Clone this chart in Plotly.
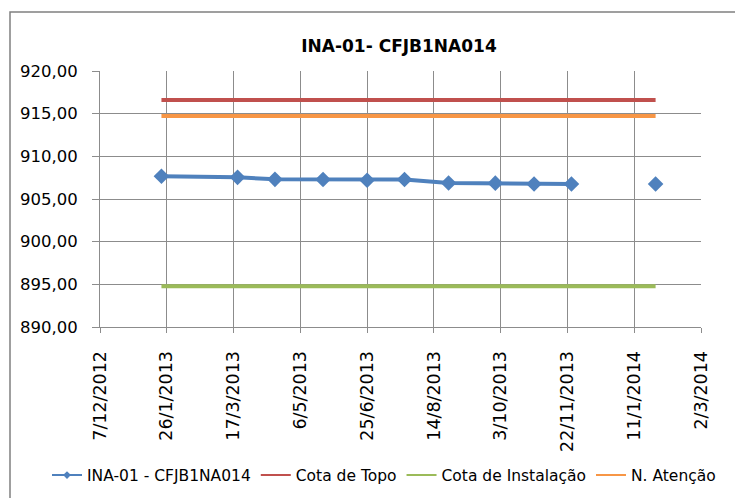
import plotly.graph_objects as go

# ---- data ----
dates = ["2013-01-22", "2013-03-20", "2013-04-17", "2013-05-23", "2013-06-25",
         "2013-07-23", "2013-08-25", "2013-09-29", "2013-10-28", "2013-11-25",
         "2013-12-26", "2014-01-27"]
ina_values = [907.66, 907.54, 907.30, 907.28, 907.19, 907.28, 906.88, 906.86,
              906.76, 906.76, None, 906.76]

line_dates = ["2013-01-22", "2014-01-27"]
cota_topo = [916.60, 916.60]
cota_instalacao = [894.78, 894.78]
n_atencao = [914.72, 914.72]

x_tick_vals = ["2012-12-07", "2013-01-26", "2013-03-17", "2013-05-06", "2013-06-25",
               "2013-08-14", "2013-10-03", "2013-11-22", "2014-01-11", "2014-03-02"]
x_tick_text = ["7/12/2012", "26/1/2013", "17/3/2013", "6/5/2013", "25/6/2013",
               "14/8/2013", "3/10/2013", "22/11/2013", "11/1/2014", "2/3/2014"]
y_tick_vals = [890, 895, 900, 905, 910, 915, 920]
y_tick_text = ["890,00", "895,00", "900,00", "905,00", "910,00", "915,00", "920,00"]

title_text = "INA-01- CFJB1NA014"
names = ["INA-01 - CFJB1NA014", "Cota de Topo", "Cota de Instalação", "N. Atenção"]

BLUE = "#4F81BD"
RED = "#C0504D"
GREEN = "#9BBB59"
ORANGE = "#F79646"
GRID = "#8C8C8C"
FONT = "DejaVu Sans"

W, H = 743, 498
OFF = 8  # page body margin offset
L, T = 100 - OFF, 71 - OFF
pw, ph = 601, 256
R = W - L - pw
B = H - T - ph

fig = go.Figure()
fig.add_trace(go.Scatter(x=line_dates, y=cota_topo, mode="lines", name=names[1],
                         line=dict(color=RED, width=4), showlegend=False))
fig.add_trace(go.Scatter(x=line_dates, y=cota_instalacao, mode="lines", name=names[2],
                         line=dict(color=GREEN, width=4), showlegend=False))
fig.add_trace(go.Scatter(x=line_dates, y=n_atencao, mode="lines", name=names[3],
                         line=dict(color=ORANGE, width=4), showlegend=False))
fig.add_trace(go.Scatter(x=dates, y=ina_values, mode="lines+markers", name=names[0],
                         line=dict(color=BLUE, width=4), connectgaps=False,
                         marker=dict(symbol="diamond", size=12, color=BLUE),
                         showlegend=False))

# legend entries (no data)
fig.add_trace(go.Scatter(x=[None], y=[None], mode="lines+markers", name=names[0],
                         line=dict(color=BLUE, width=2),
                         marker=dict(symbol="diamond", size=6, color=BLUE)))
fig.add_trace(go.Scatter(x=[None], y=[None], mode="lines", name=names[1],
                         line=dict(color=RED, width=2)))
fig.add_trace(go.Scatter(x=[None], y=[None], mode="lines", name=names[2],
                         line=dict(color=GREEN, width=2)))
fig.add_trace(go.Scatter(x=[None], y=[None], mode="lines", name=names[3],
                         line=dict(color=ORANGE, width=2)))

fig.update_layout(
    width=W, height=H,
    margin=dict(l=L, r=R, t=T, b=B, pad=0, autoexpand=False),
    paper_bgcolor="white", plot_bgcolor="white",
    title=dict(text="<b>" + title_text + "</b>", x=(399 - OFF) / W, xref="container",
               xanchor="center", y=1 - (46.5 - OFF) / H, yref="container",
               yanchor="middle",
               font=dict(family=FONT, size=17, color="black")),
    xaxis=dict(type="date", range=[x_tick_vals[0], x_tick_vals[-1]],
               tickmode="array", tickvals=x_tick_vals, ticktext=x_tick_text,
               tickangle=-90, showgrid=True, gridcolor=GRID, gridwidth=1,
               showline=True, linecolor=GRID, linewidth=1, mirror=False,
               ticks="outside", ticklen=5, tickcolor=GRID, tickwidth=1,
               ticklabelstandoff=11,
               tickfont=dict(family=FONT, size=17.5, color="black"), zeroline=False),
    yaxis=dict(range=[890, 920], tickmode="array", tickvals=y_tick_vals,
               ticktext=y_tick_text, showgrid=True, gridcolor=GRID, gridwidth=1,
               showline=True, linecolor=GRID, linewidth=1,
               ticks="outside", ticklen=7, tickcolor=GRID, tickwidth=1,
               ticklabelstandoff=11,
               tickfont=dict(family=FONT, size=16.5, color="black"), zeroline=False),
    legend=dict(orientation="h", x=(47 - 100) / pw, xanchor="left",
                y=(327 - 475.5) / ph,
                yanchor="middle", font=dict(family=FONT, size=15.5, color="black"),
                bgcolor="rgba(0,0,0,0)", itemsizing="trace"),
    showlegend=True,
    shapes=[dict(type="rect", xref="paper", yref="paper",
                 x0=(10 - 100) / pw, x1=1.3, y0=-1.0, y1=(327 - 12) / ph,
                 line=dict(color="#808080", width=1.5), fillcolor="rgba(0,0,0,0)",
                 layer="below")],
)

fig.write_html("out.html")
